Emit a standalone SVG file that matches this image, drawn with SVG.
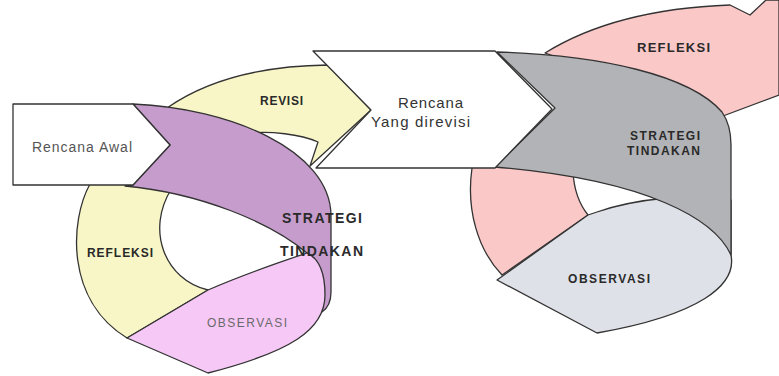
<svg xmlns="http://www.w3.org/2000/svg" width="779" height="376" viewBox="0 0 779 376">
<style>
.s{stroke:#333;stroke-width:1.3;stroke-linejoin:round}
.yl{fill:#f8f6c6}
.pu{fill:#c59ccb}
.pk{fill:#f6c8f6}
.rp{fill:#fbc8c8}
.gr{fill:#b2b3b6}
.lb{fill:#dfe1e8}
.wh{fill:#ffffff}
.lbl{font-family:"Liberation Sans",Arial,sans-serif;font-weight:bold;font-size:12px;fill:#2a2a2a}
.big{font-family:"Liberation Sans",Arial,sans-serif;font-size:14px;fill:#333}
</style>
<rect width="779" height="376" fill="#ffffff"/>
<g id="cycle1">
  <g id="refleksi1">
    <path class="s yl" d="M90,180 L90,184 C70,220 65,300 127,338 L208,290 C165,280 145,230 172,188 L172,180 Z"/>
    <text class="lbl" x="87" y="257" textLength="66" lengthAdjust="spacing">REFLEKSI</text>
  </g>
  <g id="revisi">
    <path class="s yl" d="M167,108 C200,85 250,66 328,65 L371,110 L310,166 L318,142 C300,134 270,131 250,133 L200,140 Z"/>
    <text class="lbl" x="260" y="105" textLength="43" lengthAdjust="spacing">REVISI</text>
  </g>
  <g id="strategi1">
    <path class="s pu" d="M133,104 C230,108 330,150 331,215 L331,292 Q331,306 322,312 L300,300 L307,253 C270,222 200,193 125,186 L133,185 L170,145 Z"/>
  </g>
  <g id="observasi1">
    <path class="s pk" d="M127,338 L208,290 C240,276 280,262 307,253 C318,258 325,270 325,295 C325,330 290,352 208,373 Z"/>
    <text class="lbl" style="font-weight:normal;fill:#6a6a6a" x="207" y="327" textLength="80" lengthAdjust="spacing">OBSERVASI</text>
  </g>
  <g id="label-strategi1">
    <text class="lbl" style="font-size:14px" x="282" y="223" textLength="80" lengthAdjust="spacing">STRATEGI</text>
    <text class="lbl" style="font-size:14px" x="280" y="256" textLength="83" lengthAdjust="spacing">TINDAKAN</text>
  </g>
  <g id="rencana-awal">
    <path class="s wh" d="M13,104 L133,104 L170,145 L133,185 L13,185 Z"/>
    <text class="big" style="fill:#555" x="32" y="152" textLength="100" lengthAdjust="spacing">Rencana Awal</text>
  </g>
</g>
<g id="cycle2">
  <g id="refleksi2">
    <path class="s rp" d="M545,53 C590,25 650,8 730,5 L750,15 L766,0 L779,0 L779,95 L723,116 Z"/>
    <path class="s rp" d="M472,160 L472,168 C466,210 478,250 502,275 L588,215 C580,205 574,190 573,172 L573,160 Z"/>
    <text class="lbl" style="font-size:13px" x="637" y="52" textLength="73" lengthAdjust="spacing">REFLEKSI</text>
  </g>
  <g id="observasi2">
    <path class="s lb" d="M497,280 L588,215 L597,212 C620,204 645,200 667,198 L700,185 L731,200 L731,255 C737,285 700,315 597,333 Z"/>
    <text class="lbl" x="568" y="283" textLength="82" lengthAdjust="spacing">OBSERVASI</text>
  </g>
  <g id="strategi2">
    <path class="s gr" d="M497,52 C600,55 690,75 722,112 Q731,125 731,145 L731,255 C715,220 650,180 495,167 L555,108 Z"/>
    <text class="lbl" x="630" y="140" textLength="70" lengthAdjust="spacing">STRATEGI</text>
    <text class="lbl" x="627" y="155" textLength="73" lengthAdjust="spacing">TINDAKAN</text>
  </g>
  <g id="rencana-direvisi">
    <path class="s wh" d="M313,51 L495,51 L552,109 L495,168 L316,168 L371,110 Z"/>
    <text class="big" style="font-size:15px" x="398" y="108" textLength="65" lengthAdjust="spacing">Rencana</text>
    <text class="big" style="font-size:15px" x="371" y="127" textLength="99" lengthAdjust="spacing">Yang direvisi</text>
  </g>
</g>
</svg>
